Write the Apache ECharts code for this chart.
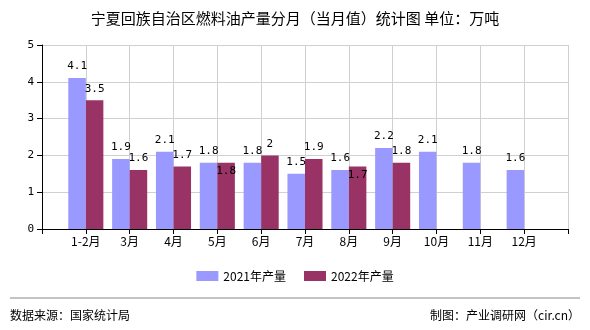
<!DOCTYPE html>
<html><head><meta charset="utf-8">
<script src="https://cdn.jsdelivr.net/npm/echarts@6/dist/echarts.min.js"></script>
<style>html,body{margin:0;padding:0;background:#fff}#c{width:590px;height:330px}</style>
</head><body><div id="c"></div>
<script>
const categories = ['', '1-2月', '3月', '4月', '5月', '6月', '7月', '8月', '9月', '10月', '11月', '12月', ''];
const series2021 = ['-', 4.1, 1.9, 2.1, 1.8, 1.8, 1.5, 1.6, 2.2, 2.1, 1.8, 1.6, '-'];
const series2022 = ['-', 3.5, 1.6, 1.7, 1.8, 2, 1.9, 1.7, 1.8, '-', '-', '-', '-'];
const yTicks = [0, 1, 2, 3, 4, 5];
const titleText = '宁夏回族自治区燃料油产量分月（当月值）统计图 单位：万吨';
const sourceText = '数据来源：国家统计局';
const makerText = '制图：产业调研网（cir.cn）';
// 2022 labels that sit inside the bar top in the reference (label collision)
const insideLabel2022 = ['5月', '8月'];

const chart = echarts.init(document.getElementById('c'), null, {renderer: 'canvas'});
const font = '"Noto Sans CJK SC", sans-serif';
const mono = '"DejaVu Sans Mono", monospace';
const labelStyle = {show: true, position: 'top', distance: 6, color: '#000', fontSize: 11, fontFamily: mono};
const data2022 = series2022.map((v, i) =>
  insideLabel2022.indexOf(categories[i]) >= 0
    ? {value: v, label: {position: 'insideTop', distance: 3}}
    : v);
chart.setOption({
  animation: false,
  textStyle: {fontFamily: font},
  title: {text: titleText, left: 'center', top: 6, textStyle: {fontSize: 15, fontWeight: 'normal', color: '#000', fontFamily: font}},
  legend: {
    bottom: 43, left: 'center', itemWidth: 22, itemHeight: 10, itemGap: 18,
    icon: 'rect', textStyle: {fontSize: 12, color: '#000', fontFamily: font},
    data: ['2021年产量', '2022年产量']
  },
  grid: {left: 42, right: 22, top: 45, bottom: 101, containLabel: false},
  xAxis: {
    type: 'category', data: categories, boundaryGap: false,
    axisLine: {lineStyle: {color: '#000'}},
    axisTick: {show: true, length: 5, lineStyle: {color: '#000'}},
    axisLabel: {color: '#000', fontSize: 12, margin: 6, interval: 0, fontFamily: font},
    splitLine: {show: true, lineStyle: {color: '#d0d0d0'}}
  },
  yAxis: {
    type: 'value', min: yTicks[0], max: yTicks[yTicks.length - 1], interval: 1,
    axisLine: {show: true, lineStyle: {color: '#000'}},
    axisTick: {show: true, length: 5, lineStyle: {color: '#000'}},
    axisLabel: {color: '#000', fontSize: 11, margin: 8, fontFamily: mono},
    splitLine: {show: true, lineStyle: {color: '#d0d0d0'}}
  },
  series: [
    {name: '2021年产量', type: 'bar', data: series2021, barGap: '0%', barCategoryGap: '20%',
     itemStyle: {color: '#9999ff'}, label: labelStyle},
    {name: '2022年产量', type: 'bar', data: data2022, barGap: '0%', barCategoryGap: '20%',
     itemStyle: {color: '#993366'}, label: labelStyle}
  ],
  graphic: [
    {type: 'line', shape: {x1: 10, y1: 298, x2: 580, y2: 298}, style: {stroke: '#888', lineWidth: 1}},
    {type: 'text', left: 10, top: 309, style: {text: sourceText, fontSize: 12, fill: '#000', fontFamily: font}},
    {type: 'text', right: 10, top: 309, style: {text: makerText, fontSize: 12, fill: '#000', fontFamily: font}}
  ]
});
</script></body></html>
